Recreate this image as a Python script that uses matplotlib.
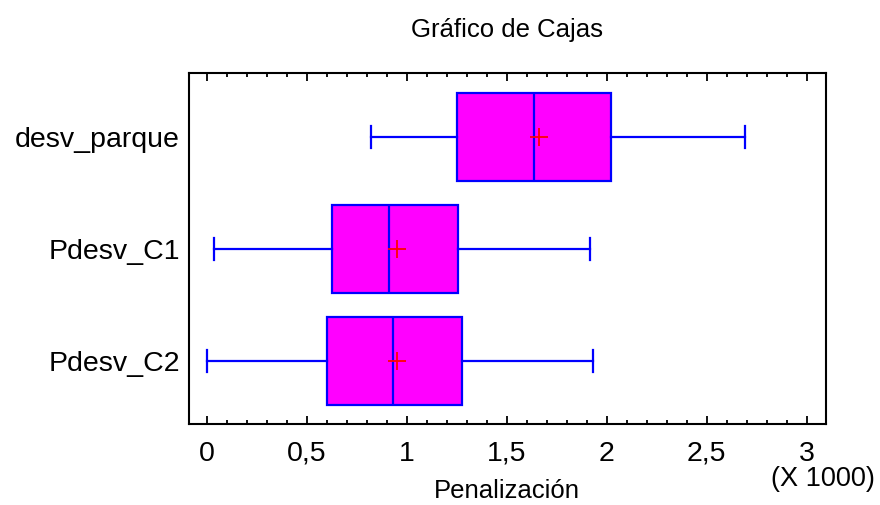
import numpy as np
import matplotlib.pyplot as plt
from matplotlib.ticker import MultipleLocator, FuncFormatter

plt.rcParams['font.family'] = ['Liberation Sans', 'DejaVu Sans']

# valores en miles
series = ['desv_parque', 'Pdesv_C1', 'Pdesv_C2']
whislo = [0.822, 0.035, 0.0]
q1 = [1.25, 0.625, 0.60]
med = [1.635, 0.91, 0.93]
q3 = [2.02, 1.255, 1.275]
whishi = [2.69, 1.915, 1.93]
mean = [1.66, 0.95, 0.953]

stats = []
for i, name in enumerate(series):
    stats.append(dict(label=name, whislo=whislo[i], q1=q1[i], med=med[i],
                      q3=q3[i], whishi=whishi[i], mean=mean[i], fliers=[]))

pos = [3, 2, 1]

fig = plt.figure(figsize=(8.8, 5.05), dpi=100)
ax = fig.add_axes([189/880, 1-424/505, (826-189)/880, (424-73)/505])

blue = '#0000ff'
ax.bxp(stats, positions=pos, vert=False, widths=0.787, patch_artist=True,
       showmeans=True, capwidths=0.2,
       boxprops=dict(facecolor='#ff00ff', edgecolor=blue, linewidth=1.6),
       medianprops=dict(color=blue, linewidth=1.6),
       whiskerprops=dict(color=blue, linewidth=1.6),
       capprops=dict(color=blue, linewidth=1.6),
       meanprops=dict(marker='+', markeredgecolor='red', markersize=13,
                      markeredgewidth=1.3))

ax.set_xlim(-0.088, 3.097)
ax.set_ylim(0.436, 3.575)
ax.set_yticks(pos)
ax.set_yticklabels(series, fontsize=20.5)
ax.tick_params(axis='y', length=0, pad=6.5)

ax.xaxis.set_major_locator(MultipleLocator(0.5))
ax.xaxis.set_minor_locator(MultipleLocator(0.1))
ax.xaxis.set_major_formatter(FuncFormatter(lambda v, p: ('%g' % v).replace('.', ',')))
ax.tick_params(axis='x', which='both', direction='in', top=True, labelsize=20.5, pad=12)
ax.tick_params(axis='x', which='major', length=6, width=1.3)
ax.tick_params(axis='x', which='minor', length=3, width=1.3)
for s in ax.spines.values():
    s.set_linewidth(1.5)

fig.text(507/880, 1-491/505, 'Penalización', fontsize=18.5, ha='center', va='center')
fig.text(507/880, 1-30/505, 'Gráfico de Cajas', fontsize=18.5, ha='center', va='center')
fig.text(823/880, 1-479/505, '(X 1000)', fontsize=19.5, ha='center', va='center')

fig.savefig('out.png', dpi=100)
